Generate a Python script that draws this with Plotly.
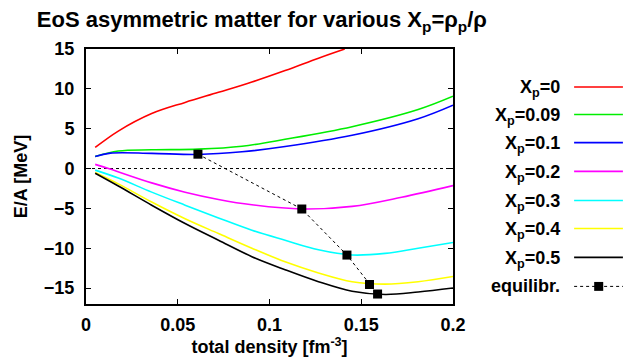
import plotly.graph_objects as go

# ---- data ----
x_common = [0.005, 0.0176, 0.0358, 0.054, 0.0722, 0.0904, 0.1085, 0.1267, 0.145, 0.163, 0.181, 0.2]

red_x = [0.005, 0.0176, 0.0358, 0.054, 0.0722, 0.0904, 0.1085, 0.1267, 0.141]
red_y = [2.64, 4.7, 6.9, 8.3, 9.57, 10.86, 12.3, 13.85, 15.0]

green_x = [0.005, 0.0176, 0.0358, 0.0613, 0.085, 0.1085, 0.145, 0.181, 0.2]
green_y = [1.52, 2.2, 2.35, 2.43, 2.8, 3.67, 5.25, 7.4, 9.07]

blue_x = [0.005, 0.0133, 0.0358, 0.061, 0.085, 0.1085, 0.145, 0.181, 0.2]
blue_y = [1.5, 1.93, 1.9, 1.77, 2.1, 2.76, 4.17, 6.25, 7.95]

mag_x = [0.005, 0.0131, 0.0358, 0.054, 0.0722, 0.0904, 0.1176, 0.145, 0.172, 0.2]
mag_y = [0.52, -0.06, -1.8, -2.97, -3.88, -4.55, -5.08, -4.75, -3.6, -2.14]

cyan_y = [-0.2, -1.2, -2.96, -4.6, -6.2, -7.74, -9.0, -10.2, -10.85, -10.65, -10.0, -9.28]
yellow_y = [-0.5, -1.93, -4.2, -6.3, -8.16, -10.0, -11.7, -13.1, -14.2, -14.5, -14.2, -13.55]
black_y = [-0.6, -2.2, -4.6, -6.9, -9.0, -11.06, -12.7, -14.2, -15.4, -15.8, -15.5, -15.0]

eq_x = [0.061, 0.1176, 0.1422, 0.1545, 0.1589]
eq_y = [1.8, -5.08, -10.86, -14.55, -15.75]

labels = ["X<sub>p</sub>=0", "X<sub>p</sub>=0.09", "X<sub>p</sub>=0.1", "X<sub>p</sub>=0.2",
          "X<sub>p</sub>=0.3", "X<sub>p</sub>=0.4", "X<sub>p</sub>=0.5", "equilibr."]
colors = ["#ff0000", "#00ee00", "#0000ff", "#ff00ff", "#00ffff", "#ffff00", "#000000"]

series = [(red_x, red_y), (green_x, green_y), (blue_x, blue_y), (mag_x, mag_y),
          (x_common, cyan_y), (x_common, yellow_y), (x_common, black_y)]

FONT = "Liberation Sans"

fig = go.Figure()

# zero line
fig.add_trace(go.Scatter(x=[0, 0.2], y=[0, 0], mode="lines",
                         line=dict(color="black", width=1, dash="dot"),
                         showlegend=False, hoverinfo="skip"))

for (xs, ys), c in zip(series, colors):
    fig.add_trace(go.Scatter(x=xs, y=ys, mode="lines", line=dict(color=c, width=1.6, shape="spline"),
                             showlegend=False))

fig.add_trace(go.Scatter(x=eq_x, y=eq_y, mode="lines+markers",
                         line=dict(color="black", width=1, dash="dot"),
                         marker=dict(symbol="square", size=9, color="black"),
                         showlegend=False))

# ---- custom legend (text right-aligned, sample to the right) ----
row_y = [0.851, 0.743, 0.633, 0.520, 0.406, 0.296, 0.183, 0.069]
text_x = 1.297
line_x0, line_x1 = 1.330, 1.463
for i, lab in enumerate(labels):
    fig.add_annotation(x=text_x, y=row_y[i], xref="paper", yref="paper", text=lab,
                       showarrow=False, xanchor="right", yanchor="middle",
                       yshift=(-2 if i < 7 else 0),
                       font=dict(family=FONT, size=18, color="black", weight="bold"))
    if i < 7:
        fig.add_shape(type="line", xref="paper", yref="paper", x0=line_x0, x1=line_x1,
                      y0=row_y[i], y1=row_y[i], line=dict(color=colors[i], width=1.6))
    else:
        fig.add_shape(type="line", xref="paper", yref="paper", x0=line_x0, x1=line_x1,
                      y0=row_y[i], y1=row_y[i], line=dict(color="black", width=1, dash="dot"))
        fig.add_shape(type="rect", xref="paper", yref="paper",
                      x0=1.397 - 0.0123, x1=1.397 + 0.0123, y0=row_y[i] - 0.0175, y1=row_y[i] + 0.0175,
                      fillcolor="black", line=dict(width=0))

fig.update_layout(
    width=624, height=364,
    margin=dict(l=86, r=171, t=49, b=58),
    plot_bgcolor="white", paper_bgcolor="white",
    title=dict(text="EoS asymmetric matter for various X<sub>p</sub>=ρ<sub>p</sub>/ρ",
               x=0.059, xanchor="left", y=0.947, yanchor="middle",
               font=dict(family=FONT, size=22, color="black", weight="bold")),
    showlegend=False,
)
fig.update_xaxes(range=[0, 0.2], tickvals=[0, 0.05, 0.1, 0.15, 0.2],
                 ticktext=["0", "0.05", "0.1", "0.15", "0.2"],
                 ticks="inside", ticklen=5, tickcolor="black", mirror="allticks",
                 showline=True, linecolor="black", linewidth=2, showgrid=False, zeroline=False,
                 ticklabelstandoff=3,
                 tickfont=dict(family=FONT, size=18, color="black", weight="bold"),
                 title=dict(text="total density [fm<sup>-3</sup>]", standoff=5,
                            font=dict(family=FONT, size=18, color="black", weight="bold")))
fig.update_yaxes(range=[-17, 15], tickvals=[-15, -10, -5, 0, 5, 10, 15],
                 ticks="inside", ticklen=5, tickcolor="black", mirror="allticks",
                 showline=True, linecolor="black", linewidth=2, showgrid=False, zeroline=False,
                 ticklabelstandoff=6,
                 tickfont=dict(family=FONT, size=18, color="black", weight="bold"),
                 title=dict(text="E/A [MeV]", standoff=12,
                            font=dict(family=FONT, size=18, color="black", weight="bold")))

fig.write_html("out.html")
